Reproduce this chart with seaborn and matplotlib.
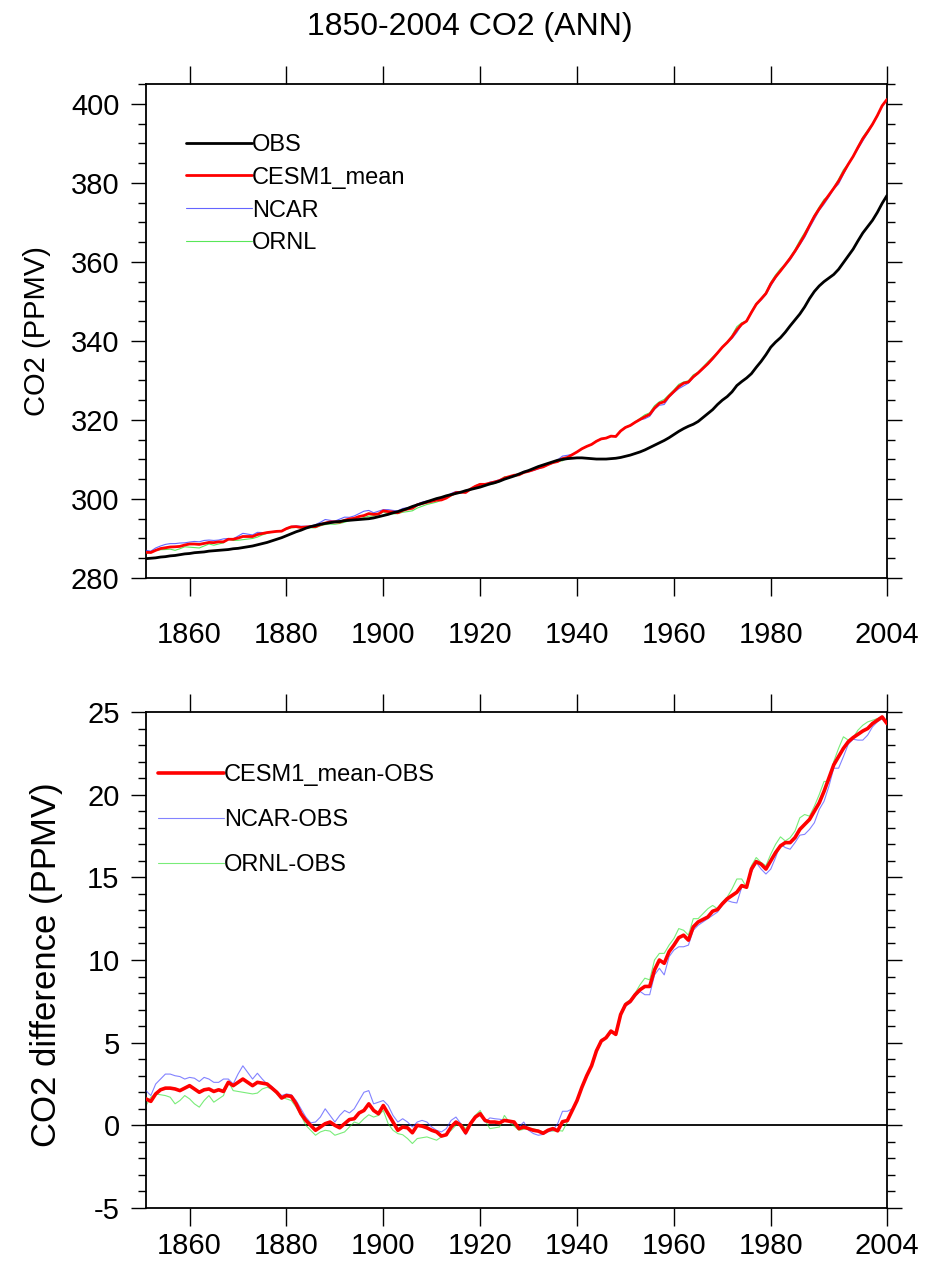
import numpy as np
import pandas as pd
import matplotlib
matplotlib.use("Agg")
import matplotlib.pyplot as plt
from matplotlib.ticker import MultipleLocator, FixedLocator
import seaborn as sns

# ---------------------------------------------------------------------------
# Annual global-mean CO2, 1851-2004
# ---------------------------------------------------------------------------
years = list(range(1851, 2005))

obs_co2 = [
    284.9, 285.0, 285.1, 285.3, 285.4, 285.6, 285.7, 285.9, 286.1, 286.2,   # 1851-1860
    286.4, 286.5, 286.6, 286.8, 286.9, 287.0, 287.1, 287.2, 287.4, 287.5,   # 1861-1870
    287.7, 287.9, 288.1, 288.4, 288.7, 289.0, 289.4, 289.8, 290.2, 290.7,   # 1871-1880
    291.2, 291.7, 292.1, 292.6, 293.0, 293.3, 293.6, 293.8, 294.0, 294.2,   # 1881-1890
    294.3, 294.5, 294.6, 294.7, 294.8, 294.9, 295.0, 295.2, 295.5, 295.8,   # 1891-1900
    296.1, 296.5, 296.8, 297.2, 297.6, 298.1, 298.5, 298.9, 299.3, 299.7,   # 1901-1910
    300.1, 300.4, 300.8, 301.1, 301.4, 301.7, 302.1, 302.4, 302.7, 303.0,   # 1911-1920
    303.4, 303.8, 304.1, 304.5, 305.0, 305.4, 305.8, 306.3, 306.8, 307.2,   # 1921-1930
    307.7, 308.2, 308.6, 309.0, 309.4, 309.8, 310.0, 310.2, 310.3, 310.4,   # 1931-1940
    310.4, 310.3, 310.2, 310.1, 310.1, 310.1, 310.2, 310.3, 310.5, 310.8,   # 1941-1950
    311.1, 311.5, 311.9, 312.4, 313.0, 313.6, 314.2, 314.8, 315.5, 316.3,   # 1951-1960
    317.1, 317.8, 318.4, 318.9, 319.6, 320.6, 321.6, 322.6, 323.9, 325.0,   # 1961-1970
    325.9, 327.1, 328.7, 329.7, 330.6, 331.7, 333.3, 334.8, 336.5, 338.4,   # 1971-1980
    339.7, 340.8, 342.2, 343.8, 345.3, 346.8, 348.6, 350.7, 352.5, 353.9,   # 1981-1990
    355.0, 355.9, 356.8, 358.1, 359.8, 361.5, 363.2, 365.3, 367.3, 368.9,   # 1991-2000
    370.5, 372.5, 374.8, 376.8,                                             # 2001-2004
]

# Model minus observation differences (PPMV)
cesm1_mean_minus_obs = [
    1.6, 1.45, 1.9, 2.15, 2.25, 2.25, 2.2, 2.1, 2.25, 2.4,
    2.2, 2.0, 2.15, 2.2, 2.05, 2.15, 2.05, 2.6, 2.4, 2.6,
    2.8, 2.6, 2.4, 2.6, 2.55, 2.5, 2.25, 2.0, 1.65, 1.8,
    1.75, 1.3, 0.7, 0.3, 0.0, -0.3, -0.1, 0.1, 0.2, 0.0,
    -0.15, 0.1, 0.35, 0.4, 0.75, 0.9, 1.3, 0.9, 0.7, 1.2,
    0.7, 0.2, -0.3, -0.1, -0.15, -0.45, 0.0, -0.05, -0.15, -0.3,
    -0.4, -0.65, -0.57, -0.1, 0.2, 0.0, -0.45, 0.1, 0.5, 0.7,
    0.3, 0.2, 0.2, 0.15, 0.3, 0.25, 0.2, -0.2, -0.1, -0.2,
    -0.3, -0.35, -0.48, -0.3, -0.2, -0.33, 0.22, 0.29, 0.9, 1.5,
    2.3, 3.0, 3.6, 4.5, 5.1, 5.3, 5.7, 5.5, 6.7, 7.3,
    7.5, 7.9, 8.2, 8.4, 8.4, 9.4, 10.0, 9.8, 10.5, 10.9,
    11.35, 11.5, 11.2, 12.0, 12.3, 12.45, 12.6, 12.95, 13.05, 13.4,
    13.7, 13.9, 14.1, 14.5, 14.4, 15.5, 15.95, 15.8, 15.5, 16.0,
    16.5, 16.9, 17.1, 17.1, 17.4, 17.9, 18.2, 18.5, 19.0, 19.5,
    20.2, 21.0, 21.8, 22.3, 22.8, 23.2, 23.45, 23.65, 23.85, 24.0,
    24.3, 24.5, 24.7, 24.3,
]

ncar_minus_obs = [
    2.1, 1.8, 2.5, 2.8, 3.1, 3.1, 3.0, 2.95, 2.8, 2.9,
    2.85, 2.65, 2.9, 2.8, 2.6, 2.6, 2.8, 2.8, 2.5, 3.1,
    3.6, 3.2, 2.8, 3.15, 2.8, 2.5, 2.35, 2.05, 1.8, 1.9,
    1.85, 1.5, 1.0, 0.5, 0.15, 0.2, 0.5, 1.0, 0.6, 0.2,
    0.6, 0.9, 0.75, 1.0, 1.5, 2.0, 2.1, 1.3, 1.4, 1.5,
    1.2, 0.6, 0.2, 0.4, 0.2, -0.1, 0.2, 0.3, 0.2, -0.1,
    -0.3, -0.4, -0.2, 0.3, 0.5, 0.1, -0.57, 0.2, 0.5, 0.6,
    0.2, 0.45, 0.4, 0.37, 0.3, 0.2, 0.1, -0.1, 0.2, -0.3,
    -0.5, -0.6, -0.55, -0.4, -0.3, 0.1, 0.85, 0.85, 1.0, 1.5,
    2.3, 3.0, 3.6, 4.5, 5.2, 5.3, 5.6, 5.5, 6.6, 7.2,
    7.4, 7.8, 8.1, 7.9, 7.9, 9.1, 9.5, 9.1, 10.2, 10.6,
    10.8, 10.8, 10.9, 11.8, 12.1, 12.3, 12.5, 12.7, 12.9, 13.3,
    13.6, 13.5, 13.45, 14.4, 14.4, 15.3, 15.9, 15.5, 15.2, 15.5,
    16.2, 17.0, 16.8, 16.7, 17.1, 17.55, 17.6, 17.9, 18.3, 19.1,
    19.6, 20.5, 21.6, 21.6, 22.3, 23.05, 23.35, 23.3, 23.3, 23.6,
    24.1, 24.4, 24.6, 24.3,
]

ornl_minus_obs = [
    1.2, 1.7, 1.9, 1.85, 1.8, 1.7, 1.3, 1.5, 1.8, 1.6,
    1.3, 1.1, 1.5, 1.8, 1.4, 1.6, 1.8, 2.65, 2.1, 2.05,
    2.0, 1.95, 1.9, 1.95, 2.2, 2.3, 2.2, 1.9, 1.7, 1.6,
    1.5, 1.1, 0.6, 0.0, -0.3, -0.6, -0.4, -0.3, -0.35, -0.6,
    -0.5, -0.4, -0.1, 0.2, 0.1, 0.4, 0.64, 0.5, 0.6, 0.9,
    0.1, -0.3, -0.5, -0.57, -0.8, -1.1, -0.8, -0.75, -0.7, -0.8,
    -0.9, -0.7, -0.5, -0.3, 0.0, 0.1, -0.2, 0.2, 0.6, 0.9,
    0.3, -0.2, -0.15, -0.1, 0.6, 0.2, -0.05, -0.3, -0.24, -0.2,
    -0.2, -0.3, -0.4, -0.3, -0.35, -0.3, -0.35, 0.2, 0.9, 1.5,
    2.3, 3.0, 3.6, 4.6, 5.1, 5.3, 5.7, 5.6, 6.8, 7.4,
    7.6, 8.0, 8.5, 8.9, 8.8, 10.0, 10.4, 10.4, 10.9, 11.3,
    11.9, 11.8, 11.5, 12.5, 12.5, 12.8, 13.1, 13.3, 13.1, 13.5,
    13.8, 14.3, 14.9, 14.9, 14.4, 15.7, 16.2, 15.9, 15.7, 16.4,
    17.0, 17.45, 17.2, 17.4, 17.8, 18.6, 18.8, 18.7, 19.3, 20.0,
    20.8, 20.8, 22.0, 22.8, 23.5, 23.3, 23.45, 23.9, 24.2, 24.4,
    24.5, 24.6, 24.7, 24.3,
]

x_ticks = [1860, 1880, 1900, 1920, 1940, 1960, 1980, 2004]
x_tick_labels = ["1860", "1880", "1900", "1920", "1940", "1960", "1980", "2004"]

# ---------------------------------------------------------------------------
sns.set_theme(style="ticks")
plt.rcParams["font.family"] = ["Liberation Sans", "DejaVu Sans"]
plt.rcParams.update({
    "axes.linewidth": 1.3,
    "axes.edgecolor": "black",
    "axes.labelcolor": "black",
    "text.color": "black",
    "xtick.color": "black",
    "ytick.color": "black",
    "axes.unicode_minus": False,
})

df = pd.DataFrame({"year": years, "OBS": obs_co2})
df["CESM1_mean"] = df["OBS"] + np.array(cesm1_mean_minus_obs)
df["NCAR"] = df["OBS"] + np.array(ncar_minus_obs)
df["ORNL"] = df["OBS"] + np.array(ornl_minus_obs)
df["CESM1_mean-OBS"] = cesm1_mean_minus_obs
df["NCAR-OBS"] = ncar_minus_obs
df["ORNL-OBS"] = ornl_minus_obs

W, H = 934, 1278
fig = plt.figure(figsize=(W / 100, H / 100), dpi=100)
ax1 = fig.add_axes([146 / W, 1 - 578 / H, 741 / W, 494 / H])
ax2 = fig.add_axes([146 / W, 1 - 1208 / H, 741 / W, 496 / H])

TICK_FS = 21
LEG_FS = 17

# --- upper panel: absolute concentrations ---
sns.lineplot(data=df, x="year", y="OBS", ax=ax1, color="black", lw=2.0,
             label="OBS", zorder=5)
sns.lineplot(data=df, x="year", y="CESM1_mean", ax=ax1, color="#ff0000", lw=2.0,
             label="CESM1_mean", zorder=4)
sns.lineplot(data=df, x="year", y="NCAR", ax=ax1, color="#3030ff", lw=0.8,
             alpha=0.75, label="NCAR", zorder=3)
sns.lineplot(data=df, x="year", y="ORNL", ax=ax1, color="#20e020", lw=0.8,
             alpha=0.75, label="ORNL", zorder=2)
ax1.set_xlim(1851, 2004)
ax1.set_ylim(280, 405)
ax1.yaxis.set_major_locator(MultipleLocator(20))
ax1.yaxis.set_minor_locator(MultipleLocator(5))
ax1.set_ylabel("CO2 (PPMV)", fontsize=TICK_FS)
ax1.yaxis.set_label_coords(-0.128, 0.5)

# --- lower panel: model minus observations ---
ax2.axhline(0, color="black", lw=1.3, zorder=1)
sns.lineplot(data=df, x="year", y="CESM1_mean-OBS", ax=ax2, color="#ff0000",
             lw=2.6, label="CESM1_mean-OBS", zorder=5)
sns.lineplot(data=df, x="year", y="NCAR-OBS", ax=ax2, color="#3030ff", lw=0.8,
             alpha=0.6, label="NCAR-OBS", zorder=3)
sns.lineplot(data=df, x="year", y="ORNL-OBS", ax=ax2, color="#20e020", lw=0.8,
             alpha=0.6, label="ORNL-OBS", zorder=2)
ax2.set_xlim(1851, 2004)
ax2.set_ylim(-5, 25)
ax2.yaxis.set_major_locator(MultipleLocator(5))
ax2.yaxis.set_minor_locator(MultipleLocator(1))
ax2.set_ylabel("CO2 difference (PPMV)", fontsize=25)
ax2.yaxis.set_label_coords(-0.112, 0.49)

for ax, xpad in ((ax1, 18), (ax2, 4)):
    ax.set_xlabel("")
    ax.xaxis.set_major_locator(FixedLocator(x_ticks))
    ax.set_xticklabels(x_tick_labels)
    ax.tick_params(axis="x", which="major", direction="out", length=13, width=1.0,
                   top=True, bottom=True, labelsize=TICK_FS, pad=xpad)
    ax.tick_params(axis="y", which="major", direction="out", length=11, width=1.0,
                   left=True, right=True, labelsize=TICK_FS, pad=8)
    ax.tick_params(axis="y", which="minor", direction="out", length=6, width=1.0,
                   left=True, right=True)
    ax.tick_params(axis="x", which="minor", bottom=False, top=False)
    for sp in ax.spines.values():
        sp.set_visible(True)
        sp.set_color("black")

ax1.legend(loc="upper left", bbox_to_anchor=(0.054, 0.899), frameon=False,
           fontsize=LEG_FS, handlelength=2.8, handletextpad=0.0,
           labelspacing=0.46, borderpad=0, borderaxespad=0)
ax2.legend(loc="upper left", bbox_to_anchor=(0.016, 0.895), frameon=False,
           fontsize=LEG_FS, handlelength=2.8, handletextpad=0.0,
           labelspacing=0.98, borderpad=0, borderaxespad=0)

fig.text(0.503, 1 - 27 / H, "1850-2004 CO2 (ANN)", ha="center", va="center",
         fontsize=23)

fig.savefig("out.png", dpi=100)
